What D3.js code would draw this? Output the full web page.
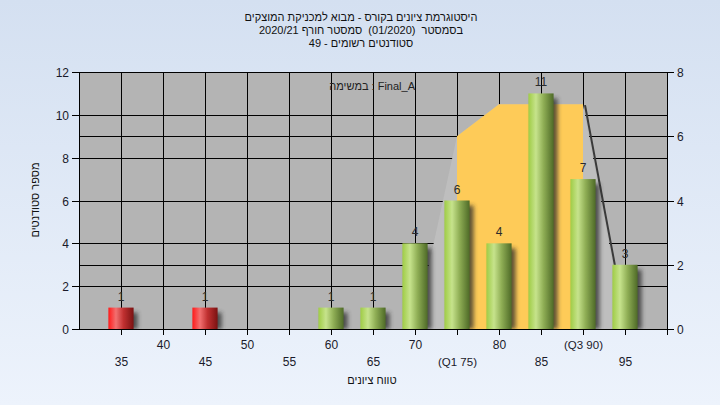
<!DOCTYPE html>
<html><head><meta charset="utf-8">
<script src="https://cdn.jsdelivr.net/npm/d3@7"></script>
<style>
html,body{margin:0;padding:0;}
svg{display:block;font-family:"Liberation Sans",Arial,sans-serif;}
text{white-space:pre;}
</style></head>
<body>
<script>
// ---- data ----
const scores = [35, 45, 60, 65, 70, 75, 80, 85, 90, 95];
const counts = [1, 1, 1, 1, 4, 6, 4, 11, 7, 3];
const passMark = 55;
const tickValues = [35, 40, 45, 50, 55, 60, 65, 70, 75, 80, 85, 90, 95];
const tickLabels = ["35", "40", "45", "50", "55", "60", "65", "70", "(Q1 75)", "80", "85", "(Q3 90)", "95"];
const areaX = [70, 75, 80, 85, 90, 95];
const areaY = [0, 6, 7, 7, 7, 0];
const q1 = 75, q3 = 90;
const leftTicks = [0, 2, 4, 6, 8, 10, 12];
const rightTicks = [0, 2, 4, 6, 8];
const titleLines = ["היסטוגרמת ציונים בקורס - מבוא למכניקת המוצקים", "בסמסטר  (01/2020)  סמסטר חורף 2020/21", "סטודנטים רשומים - 49"];
const legendText = "במשימה : Final_A";
const yTitle = "מספר סטודנטים";
const xTitle = "טווח ציונים";

const W = 720, H = 405;
const L = 79, R = 667, T = 72, B = 329;

const svg = d3.select("body").append("svg").attr("width", W).attr("height", H);
const defs = svg.append("defs");

const bg = defs.append("linearGradient").attr("id", "bg").attr("x1", 0).attr("y1", 0).attr("x2", 0).attr("y2", 1);
bg.append("stop").attr("offset", "0%").attr("stop-color", "#D4E0F1");
bg.append("stop").attr("offset", "100%").attr("stop-color", "#EDF3FC");

function cyl(id, stops) {
  const g = defs.append("linearGradient").attr("id", id).attr("x1", 0).attr("y1", 0).attr("x2", 1).attr("y2", 0);
  stops.forEach(s => g.append("stop").attr("offset", s[0]).attr("stop-color", s[1]));
}
cyl("gGreen", [["0%", "#9FCC45"], ["30%", "#C6E38C"], ["60%", "#8FAE55"], ["100%", "#4E6A27"]]);
cyl("gRed", [["0%", "#FF1A1A"], ["30%", "#F27070"], ["60%", "#C03030"], ["100%", "#7A1212"]]);

const blur = defs.append("filter").attr("id", "blur").attr("x", "-50%").attr("y", "-50%").attr("width", "200%").attr("height", "200%");
blur.append("feGaussianBlur").attr("stdDeviation", 2);

defs.append("clipPath").attr("id", "plotClip").append("rect").attr("x", L).attr("y", T).attr("width", R - L).attr("height", B - T);

svg.append("rect").attr("width", W).attr("height", H).attr("fill", "url(#bg)");

const x = d3.scaleLinear().domain([30, 100]).range([L, R]);
const yL = d3.scaleLinear().domain([0, 12]).range([B, T]);
const yR = d3.scaleLinear().domain([0, 8]).range([B, T]);

// plot background
svg.append("rect").attr("x", L).attr("y", T).attr("width", R - L).attr("height", B - T).attr("fill", "#B4B4B4");

// grid
const grid = svg.append("g").attr("stroke", "#000").attr("stroke-width", 1);
leftTicks.forEach(v => grid.append("line").attr("x1", L).attr("x2", R).attr("y1", Math.round(yL(v)) + 0.5).attr("y2", Math.round(yL(v)) + 0.5));
rightTicks.forEach(v => grid.append("line").attr("x1", L).attr("x2", R).attr("y1", Math.round(yR(v)) + 0.5).attr("y2", Math.round(yR(v)) + 0.5));
tickValues.forEach(v => grid.append("line").attr("y1", T).attr("y2", B).attr("x1", Math.round(x(v)) + 0.5).attr("x2", Math.round(x(v)) + 0.5));

// area
const pts = areaX.map((d, i) => [d, areaY[i]]);
const area = d3.area().x(d => x(d[0])).y0(yR(0)).y1(d => yR(d[1]));
const ag = svg.append("g").attr("clip-path", "url(#plotClip)");
ag.append("path").datum(pts.slice(-2)).attr("d", d3.line().x(d => x(d[0]) + 2).y(d => yR(d[1]) + 1))
  .attr("fill", "none").attr("stroke", "#3a3a3a").attr("stroke-width", 2);
ag.append("path").datum(pts).attr("d", area).attr("fill", "#BEBEBE");
defs.append("clipPath").attr("id", "iqr").append("rect").attr("x", x(q1)).attr("y", T).attr("width", x(q3) - x(q1)).attr("height", B - T);
ag.append("path").datum(pts).attr("d", area).attr("fill", "#FECB58").attr("clip-path", "url(#iqr)");

// bars
const bw = x(33) - x(30);
const bars = svg.append("g");
scores.forEach((s, i) => {
  const y0 = yL(counts[i]);
  bars.append("rect").attr("x", x(s) - bw / 2 + 4).attr("y", y0 + 5).attr("width", bw).attr("height", B - y0 - 5)
    .attr("fill", "#2a2a2a").attr("opacity", 0.75).attr("filter", "url(#blur)").attr("clip-path", "url(#plotClip)");
});
scores.forEach((s, i) => {
  const y0 = yL(counts[i]);
  bars.append("rect").attr("x", x(s) - bw / 2).attr("y", y0).attr("width", bw).attr("height", B - y0)
    .attr("fill", s < passMark ? "url(#gRed)" : "url(#gGreen)");
  bars.append("text").attr("x", x(s)).attr("y", y0 - 7).attr("text-anchor", "middle")
    .attr("font-size", 12).attr("fill", "#2b2b2b").text(counts[i]);
});

// axes lines
const ax = svg.append("g").attr("stroke", "#000").attr("stroke-width", 1);
ax.append("line").attr("x1", L + 0.5).attr("x2", L + 0.5).attr("y1", T).attr("y2", B + 1);
ax.append("line").attr("x1", R + 0.5).attr("x2", R + 0.5).attr("y1", T).attr("y2", B + 6);
ax.append("line").attr("x1", L).attr("x2", R + 1).attr("y1", B + 0.5).attr("y2", B + 0.5);
ax.append("line").attr("x1", L).attr("x2", R + 1).attr("y1", T + 0.5).attr("y2", T + 0.5);

const lab = svg.append("g").attr("font-size", 12).attr("fill", "#1a1a2a");
leftTicks.forEach(v => {
  const y = Math.round(yL(v)) + 0.5;
  ax.append("line").attr("x1", L - 7).attr("x2", L).attr("y1", y).attr("y2", y);
  lab.append("text").attr("x", L - 10).attr("y", y).attr("dy", "0.35em").attr("text-anchor", "end").text(v);
});
rightTicks.forEach(v => {
  const y = Math.round(yR(v)) + 0.5;
  ax.append("line").attr("x1", R).attr("x2", R + 7).attr("y1", y).attr("y2", y);
  lab.append("text").attr("x", R + 10).attr("y", y).attr("dy", "0.35em").attr("text-anchor", "start").text(v);
});
tickValues.forEach((v, i) => {
  const xx = Math.round(x(v)) + 0.5;
  ax.append("line").attr("x1", xx).attr("x2", xx).attr("y1", B).attr("y2", B + 6);
  const upper = (v % 10 === 0);
  lab.append("text").attr("x", xx).attr("y", upper ? 345 : 362).attr("dy", "0.35em").attr("text-anchor", "middle")
    .attr("font-size", v === q1 || v === q3 ? 11.5 : 12).text(tickLabels[i]);
});

// titles
const tg = svg.append("g").attr("font-size", 11).attr("fill", "#111");
titleLines.forEach((t, i) => {
  tg.append("text").attr("x", 361).attr("y", 17.5 + i * 13).attr("dy", "0.35em").attr("text-anchor", "middle")
    .attr("direction", "rtl").attr("unicode-bidi", "embed").text(t);
});
svg.append("text").attr("x", 415).attr("y", 86).attr("dy", "0.35em").attr("text-anchor", "end")
  .attr("font-size", 11).attr("fill", "#222").text(legendText);
svg.append("text").attr("transform", "translate(35,200) rotate(-90)").attr("dy", "0.35em").attr("text-anchor", "middle")
  .attr("direction", "rtl").attr("unicode-bidi", "embed").attr("font-size", 11).attr("fill", "#111").text(yTitle);
svg.append("text").attr("x", 372).attr("y", 380).attr("dy", "0.35em").attr("text-anchor", "middle")
  .attr("direction", "rtl").attr("unicode-bidi", "embed").attr("font-size", 11).attr("fill", "#111").text(xTitle);
</script>
</body></html>
